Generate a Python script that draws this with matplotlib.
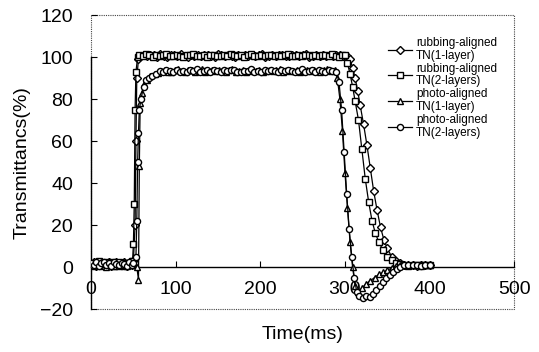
import numpy as np
import matplotlib
matplotlib.use("Agg")
import matplotlib.pyplot as plt
from matplotlib.patches import Rectangle

plt.rcParams['font.family'] = ['Liberation Sans', 'DejaVu Sans']

# shared baseline sampling before the pulse (ms)
base_t = np.arange(0, 49, 3)

# rubbing-aligned TN, 1 layer
rub1_t = np.r_[base_t, [50, 52, 53, 54, 56], np.arange(58, 301, 4),
               [303, 306, 309, 312, 315, 318, 322, 326, 330, 334, 338, 342,
                346, 350, 355, 360, 365, 370, 375, 380, 385, 390, 395, 400]]
rub1_v = [1.5, 2.5, 0.5, 1.0, 2.0, 0.8, 1.8, 2.6, 0.6, 1.4, 2.2, 0.9, 1.6, 2.4, 0.7, 1.9, 1.1,
          3, 20, 60, 90, 99,
          100.5, 101.2, 100.3, 101.0, 100.8, 100.1, 101.4, 100.6, 100.2, 101.1,
          100.9, 100.4, 101.3, 100.7, 100.0, 101.0, 100.5, 101.2, 100.3, 100.8,
          101.1, 100.6, 100.2, 101.3, 100.9, 100.4, 101.0, 100.7, 100.1, 101.2,
          100.5, 100.9, 100.3, 101.1, 100.6, 100.8, 101.4, 100.2, 100.7, 101.0,
          100.4, 100.9, 101.2, 100.5, 100.3, 101.1, 100.8, 100.6, 100.9, 101.3,
          100.2, 100.7, 101.0, 100.4, 101.2, 100.6, 100.9, 100.3, 101.1, 100.8,
          100.5,
          100.6, 99, 95, 90, 84, 77, 68, 58, 47, 36, 27, 19, 13, 9, 5, 3, 2,
          1.2, 0.8, 1.0, 0.6, 1.1, 0.9, 1.0]

# rubbing-aligned TN, 2 layers
rub2_t = np.r_[base_t, [49, 50, 51, 52, 53, 55], np.arange(57, 298, 4),
               [300, 303, 306, 309, 312, 316, 320, 324, 328, 332, 336, 340,
                345, 350, 355, 360, 365, 370, 375, 380, 385, 390, 395, 400]]
rub2_v = [0.8, 2.0, 1.2, 2.8, 0.4, 1.6, 2.4, 1.0, 2.2, 0.6, 1.8, 2.6, 1.2, 0.5, 2.1, 1.4, 2.7,
          3, 11, 30, 75, 93, 100,
          101.0, 100.4, 101.3, 100.8, 100.2, 101.1, 100.6, 100.9, 101.4, 100.3,
          100.7, 101.2, 100.5, 100.1, 101.0, 100.8, 101.3, 100.4, 100.6, 101.1,
          100.2, 100.9, 101.2, 100.5, 100.7, 101.0, 100.3, 101.4, 100.8, 100.6,
          101.1, 100.2, 100.9, 101.3, 100.5, 100.7, 101.0, 100.4, 101.2, 100.8,
          100.3, 101.1, 100.6, 100.9, 101.3, 100.5, 100.7, 101.0, 100.4, 101.2,
          100.9, 100.6, 101.1, 100.3, 100.8, 101.0, 100.5, 101.3, 100.7, 100.2,
          100.9,
          100.8, 97, 92, 86, 79, 70, 56, 42, 31, 22, 16, 12, 8, 5, 3.2, 2.0,
          1.4, 1.0, 0.7, 1.1, 0.8, 1.2, 0.9, 1.0]

# photo-aligned TN, 1 layer
ph1_t = np.r_[base_t, [50, 54, 56, 57, 58, 60, 63, 66, 70, 75], np.arange(79, 286, 4),
              [288, 291, 294, 297, 300, 303, 306, 309, 312, 315, 320, 325, 330,
               335, 340, 345, 350, 355, 360, 365, 370, 375, 380, 385, 390, 395, 400]]
ph1_v = [1.0, 0.3, 1.8, 0.9, 2.4, 1.4, 0.2, 1.1, 2.0, 0.7, 1.5, 0.4, 1.2, 2.2, 0.6, 1.7, 0.9,
         1.5, 0, -6, 48, 78, 83, 87, 89, 91, 92,
         92.6, 93.4, 94.0, 93.1, 92.8, 93.7, 94.2, 93.3, 92.9, 93.8,
         94.1, 93.0, 93.5, 94.3, 92.7, 93.6, 93.9, 93.2, 94.0, 93.4,
         92.8, 93.7, 94.2, 93.1, 93.5, 93.9, 92.9, 93.6, 94.1, 93.3,
         93.8, 92.7, 93.4, 94.0, 93.2, 93.7, 94.3, 93.0, 93.5, 93.9,
         93.3, 94.0, 92.8, 93.6, 94.1, 93.2, 93.9, 93.4, 92.9, 93.7,
         94.2, 93.5,
         94.0, 90, 80, 65, 45, 28, 12, 0, -9, -12, -10, -8, -6.5, -5, -3.5,
         -2.5, -1.5, -0.5, 0.6, 1.0, 0.8, 1.2, 0.9, 1.1, 0.7, 1.0, 0.8]

# photo-aligned TN, 2 layers
ph2_t = np.r_[base_t, [50, 53, 54, 55, 56, 57, 59, 62, 65, 68, 72, 77], np.arange(81, 288, 4),
              [290, 293, 296, 299, 302, 305, 308, 311, 314, 317, 321, 325, 329, 333,
               337, 341, 345, 349, 353, 357, 361, 365, 370, 375, 380, 385, 390, 395, 400]]
ph2_v = [2.0, 1.0, 2.6, 0.5, 1.7, 2.3, 0.8, 1.9, 0.4, 2.5, 1.3, 0.9, 2.1, 1.6, 0.3, 2.4, 1.2,
         2.0, 5, 22, 50, 64, 75, 80, 86, 89, 90, 91, 92,
         93.2, 92.7, 93.8, 93.4, 92.9, 94.0, 93.1, 93.6, 92.8, 93.9,
         93.3, 94.2, 92.9, 93.5, 93.8, 93.0, 94.1, 93.4, 92.7, 93.7,
         93.2, 93.9, 94.0, 93.1, 92.8, 93.6, 93.4, 94.2, 93.0, 93.5,
         92.9, 93.8, 93.3, 94.1, 93.6, 92.8, 93.7, 93.2, 94.0, 93.4,
         93.1, 93.6, 94.2, 92.9, 93.5, 93.8, 93.0, 94.1, 93.3, 92.8,
         93.7, 93.4,
         93, 88, 75, 55, 35, 18, 5, -5, -12, -14, -14.5, -14, -14.2, -13, -11,
         -9, -7, -5, -3.8, -2.2, -1.0, 0, 0.8, 1.2, 0.9, 1.1, 0.7, 1.0, 0.9]

labels = ['rubbing-aligned\nTN(1-layer)', 'rubbing-aligned\nTN(2-layers)',
          'photo-aligned\nTN(1-layer)', 'photo-aligned\nTN(2-layers)']
markers = ['D', 's', '^', 'o']
msizes = [3.8, 4.4, 4.6, 4.4]

fig = plt.figure(figsize=(5.39, 3.52), dpi=100)
ax = fig.add_axes([0.169, 0.122, 0.785, 0.835])

series = [(rub1_t, rub1_v), (rub2_t, rub2_v), (ph1_t, ph1_v), (ph2_t, ph2_v)]
for (t, v), lab, mk, ms in zip(series, labels, markers, msizes):
    ax.plot(t, v, color='black', lw=0.9, marker=mk, ms=ms, mfc='white',
            mec='black', mew=1.0, label=lab, zorder=3)

ax.set_xlim(0, 500)
ax.set_ylim(-20, 120)
ax.set_xticks([0, 100, 200, 300, 400, 500])
ax.set_yticks([-20, 0, 20, 40, 60, 80, 100, 120])

# solid y axis and a solid zero line carrying the time ticks
ax.spines['top'].set_visible(False)
ax.spines['right'].set_visible(False)
ax.spines['left'].set_bounds(-20, 100)
ax.spines['left'].set_linewidth(1.0)
ax.spines['bottom'].set_position(('data', 0))
ax.spines['bottom'].set_linewidth(1.0)
ax.tick_params(axis='x', direction='in', length=4, pad=10, labelsize=14)
ax.tick_params(axis='y', direction='in', length=4, pad=13, labelsize=14)

# dotted outer frame
ax.add_patch(Rectangle((0, 0), 1, 1, transform=ax.transAxes, fill=False,
                       ls=(0, (1, 1)), lw=0.8, ec='#444444', clip_on=False))

ax.set_xlabel('Time(ms)', fontsize=14)
ax.xaxis.set_label_coords(0.5, -0.058)
ax.set_ylabel('Transmittancs(%)', fontsize=14)
ax.yaxis.set_label_coords(-0.144, 0.5)

leg = ax.legend(loc='upper left', bbox_to_anchor=(0.702, 0.925), frameon=False,
                fontsize=8.5, handlelength=2.0, handletextpad=0.35,
                labelspacing=0.1, borderpad=0, borderaxespad=0)
for txt in leg.get_texts():
    txt.set_linespacing(1.05)

fig.savefig('out.png', dpi=100)
